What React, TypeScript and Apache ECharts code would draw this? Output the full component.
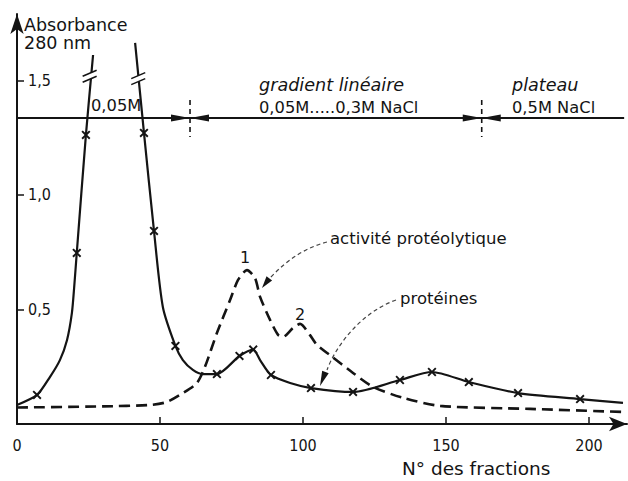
import React, { useEffect, useRef } from 'react';
import * as echarts from 'echarts';

// ---- data ----
const fractionTicks = [0, 50, 100, 150, 200];
const fractionMinorTicks = [50, 100, 150, 200];
const absorbanceTicks = [0.5, 1.0, 1.5];

// proteins (A280), rising flank up to the cut-off peak
const proteinRiseX = [0, 7.0, 11.5, 15.0, 17.5, 19.2, 20.0, 20.9, 24.1, 26.6];
const proteinRiseY = [0.083, 0.127, 0.205, 0.279, 0.367, 0.485, 0.598, 0.747, 1.262, 1.611];
const proteinRiseMarked = [0, 1, 0, 0, 0, 0, 0, 1, 1, 0];
// proteins, after the cut-off peak
const proteinFallX = [41.3, 44.4, 47.9, 51.0, 55.4, 58.0, 61.5, 65.0, 69.9, 77.8, 82.6, 85.0, 88.8, 95.5, 102.8, 117.5, 133.9, 145.1, 158.0, 175.2, 196.9, 211.9];
const proteinFallY = [1.664, 1.271, 0.843, 0.511, 0.341, 0.279, 0.236, 0.218, 0.218, 0.297, 0.325, 0.279, 0.214, 0.179, 0.157, 0.140, 0.192, 0.227, 0.183, 0.135, 0.109, 0.092];
const proteinFallMarked = [0, 1, 1, 0, 1, 0, 0, 0, 1, 1, 1, 0, 1, 0, 1, 1, 1, 1, 1, 1, 1, 0];

// proteolytic activity (dashed)
const activityX = [0, 30, 46.5, 52.4, 58, 62.9, 65.7, 69.9, 74.5, 77.3, 80.4, 83.2, 85, 88.5, 91.3, 93, 96.5, 99, 102.4, 104.9, 109.4, 117.5, 124.5, 135, 148, 179.4, 213];
const activityY = [0.072, 0.077, 0.083, 0.096, 0.135, 0.179, 0.249, 0.397, 0.541, 0.629, 0.672, 0.638, 0.555, 0.454, 0.389, 0.380, 0.419, 0.437, 0.389, 0.345, 0.301, 0.223, 0.162, 0.114, 0.079, 0.066, 0.052];

// buffer line and its boundaries
const bufferLevel = 1.336;
const bufferBoundaries = [60.5, 162.5];
const breakMarks = [[25.4, 1.52], [42.4, 1.51]];

const X_MAX = 213.3;
const Y_MAX = 1.79;

const TEXT = '"DejaVu Sans", "Noto Sans", sans-serif';
const NUM = '"Liberation Sans Narrow", "DejaVu Sans Condensed", "Roboto Condensed", sans-serif';
const INK = '#141414';
const CROSS = 'path://M1.5,0L5,3.5L8.5,0L10,1.5L6.5,5L10,8.5L8.5,10L5,6.5L1.5,10L0,8.5L3.5,5L0,1.5Z';

function arrowHead(tip: number[], from: number[], len: number, half: number) {
  const dx = tip[0] - from[0];
  const dy = tip[1] - from[1];
  const d = Math.hypot(dx, dy);
  const ux = dx / d, uy = dy / d;
  const bx = tip[0] - ux * len, by = tip[1] - uy * len;
  return [[tip[0], tip[1]], [bx - uy * half, by + ux * half], [bx + uy * half, by - ux * half]];
}

function txt(text: string, x: number, y: number, size: number, extra: any = {}) {
  return {
    type: 'text', x, y, silent: true,
    style: { text, fill: INK, font: `${extra.italic ? 'italic ' : ''}${size}px ${TEXT}`, textVerticalAlign: 'middle', textAlign: extra.align || 'left' },
  };
}

export default function App() {
  const ref = useRef<HTMLDivElement>(null);
  useEffect(() => {
    if (!ref.current) return;
    const chart = echarts.init(ref.current, undefined, { renderer: 'svg' });

    const proteinData: any[] = [];
    proteinRiseX.forEach((x, i) => proteinData.push({ value: [x, proteinRiseY[i]], symbol: proteinRiseMarked[i] ? CROSS : 'none' }));
    proteinData.push({ value: [34, '-'], symbol: 'none' });
    proteinFallX.forEach((x, i) => proteinData.push({ value: [x, proteinFallY[i]], symbol: proteinFallMarked[i] ? CROSS : 'none' }));

    const activityData = activityX.map((x, i) => [x, activityY[i]]);

    chart.setOption({
      animation: false,
      backgroundColor: '#ffffff',
      grid: { left: 17, right: 1, top: 14, bottom: 57, containLabel: false },
      xAxis: {
        type: 'value', min: 0, max: X_MAX,
        axisLine: { show: true, lineStyle: { color: INK, width: 2 }, symbol: ['none', 'arrow'], symbolSize: [11, 18] },
        axisTick: { show: true, inside: true, length: 7, lineStyle: { color: INK, width: 1.5 }, customValues: fractionMinorTicks },
        axisLabel: { show: true, customValues: fractionTicks, margin: 13, color: INK, fontFamily: NUM, fontSize: 16 },
        splitLine: { show: false },
      },
      yAxis: {
        type: 'value', min: 0, max: Y_MAX,
        axisLine: { show: true, lineStyle: { color: INK, width: 2 }, symbol: ['none', 'arrow'], symbolSize: [10, 20] },
        axisTick: { show: true, inside: true, length: 7, lineStyle: { color: INK, width: 1.5 }, customValues: absorbanceTicks },
        axisLabel: {
          show: true, inside: true, customValues: absorbanceTicks, margin: 11, color: INK, fontFamily: NUM, fontSize: 16,
          formatter: (v: number) => v.toFixed(1).replace('.', ','),
        },
        splitLine: { show: false },
      },
      series: [
        {
          name: 'buffer', type: 'line', silent: true, showSymbol: false,
          data: [[0, bufferLevel], [X_MAX - 1, bufferLevel]],
          lineStyle: { color: INK, width: 2 }, z: 2,
        },
        {
          name: 'activité protéolytique', type: 'line', silent: true, showSymbol: false,
          smooth: 0.25, data: activityData,
          lineStyle: { color: INK, width: 2.6, type: [11, 6] }, z: 3,
        },
        {
          name: 'protéines', type: 'line', silent: true, smooth: 0.25, connectNulls: false,
          showSymbol: true, symbolSize: 9, data: proteinData,
          itemStyle: { color: INK }, lineStyle: { color: INK, width: 2.2 }, z: 4,
        },
      ],
    });

    const toPx = (p: number[]) => chart.convertToPixel({ gridIndex: 0 }, p) as number[];
    const g: any[] = [];

    // buffer boundaries
    bufferBoundaries.forEach((b) => {
      const [px, yc] = toPx([b, bufferLevel]);
      g.push({ type: 'line', silent: true, shape: { x1: px, y1: yc - 18, x2: px, y2: yc + 19 }, style: { stroke: INK, lineWidth: 1.6, lineDash: [5, 4] } });
      g.push({ type: 'polygon', silent: true, shape: { points: [[px - 19, yc - 3.5], [px, yc], [px - 19, yc + 3.5]] }, style: { fill: INK } });
      g.push({ type: 'polygon', silent: true, shape: { points: [[px + 19, yc - 3.5], [px, yc], [px + 19, yc + 3.5]] }, style: { fill: INK } });
    });

    // scale breaks on the first peak
    breakMarks.forEach((m) => {
      const [cx, cy] = toPx(m);
      g.push({ type: 'polygon', silent: true, z: 10, shape: { points: [[cx - 7, cy + 0.5], [cx + 7, cy - 5.5], [cx + 7, cy + 0.5], [cx - 7, cy + 6.5]] }, style: { fill: '#ffffff' } });
      g.push({ type: 'line', silent: true, z: 11, shape: { x1: cx - 7, y1: cy + 0.5, x2: cx + 7, y2: cy - 5.5 }, style: { stroke: INK, lineWidth: 1.6 } });
      g.push({ type: 'line', silent: true, z: 11, shape: { x1: cx - 7, y1: cy + 6.5, x2: cx + 7, y2: cy + 0.5 }, style: { stroke: INK, lineWidth: 1.6 } });
    });

    // texts
    g.push(txt('Absorbance', 24, 25, 17.5));
    g.push(txt('280 nm', 24, 43, 17.5));
    g.push(txt('0,05M', 91, 105, 16.3));
    g.push(txt('gradient linéaire', 259, 85, 17.6, { italic: true }));
    g.push(txt('0,05M.....0,3M NaCl', 259, 107, 16.3));
    g.push(txt('plateau', 512, 85, 17.6, { italic: true }));
    g.push(txt('0,5M NaCl', 512, 107, 16.3));
    g.push(txt('activité protéolytique', 330, 238, 16.5));
    g.push(txt('protéines', 400, 298, 16.5));
    g.push(txt('1', 245, 257, 16, { align: 'center' }));
    g.push(txt('2', 300, 314, 16, { align: 'center' }));
    g.push(txt('N° des fractions', 402, 468, 18.5));

    // annotation arrows
    g.push({ type: 'bezierCurve', silent: true, shape: { x1: 327, y1: 242, cpx1: 296, cpy1: 250, x2: 270, y2: 278 }, style: { stroke: '#444', lineWidth: 1.2, lineDash: [4, 3], fill: 'none' } });
    g.push({ type: 'polygon', silent: true, shape: { points: arrowHead([262, 288], [272, 275], 12, 3.5) }, style: { fill: INK } });
    g.push({ type: 'bezierCurve', silent: true, shape: { x1: 396, y1: 300, cpx1: 362, cpy1: 312, cpx2: 336, cpy2: 345, x2: 327, y2: 370 }, style: { stroke: '#444', lineWidth: 1.2, lineDash: [4, 3], fill: 'none' } });
    g.push({ type: 'polygon', silent: true, shape: { points: arrowHead([320, 386], [327, 368], 15, 3.5) }, style: { fill: INK } });

    chart.setOption({ graphic: g });

    return () => chart.dispose();
  }, []);

  return <div ref={ref} style={{ position: 'fixed', left: 0, top: 0, width: 628, height: 481, background: '#fff' }} />;
}
